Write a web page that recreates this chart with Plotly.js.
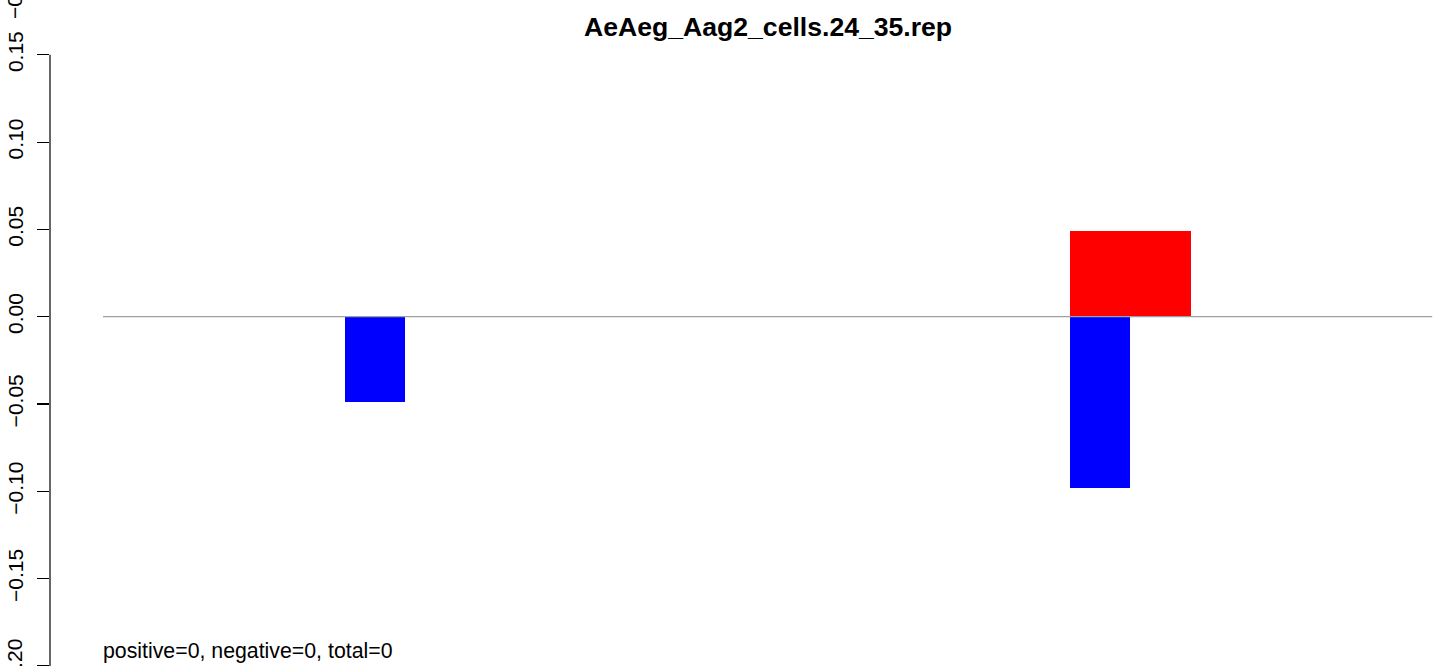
<!DOCTYPE html>
<html>
<head>
<meta charset="utf-8">
<script src="https://cdn.plot.ly/plotly-3.0.1.min.js"></script>
<style>
html,body{margin:0;padding:0;background:#fff;}
#chart{width:1439px;height:666px;}
</style>
</head>
<body>
<div id="chart"></div>
<script>
// ---- data ----
var chartTitle = "AeAeg_Aag2_cells.24_35.rep";
var footerText = "positive=0, negative=0, total=0";
var slotCount = 22;

var negStart = [4, 16];
var negWidth = [1, 1];
var negValues = [-0.049, -0.098];

var posStart = [16];
var posWidth = [2];
var posValues = [0.049];

var yTickVals = [0.15, 0.10, 0.05, 0.00, -0.05, -0.10, -0.15, -0.20];
var yTickText = ["0.15", "0.10", "0.05", "0.00", "\u22120.05", "\u22120.10", "\u22120.15", "\u22120.20"];

// ---- figure ----
var FONT = "Liberation Sans, Arial, Helvetica, sans-serif";

var traces = [
  {
    type: "bar",
    x: posStart, y: posValues, width: posWidth, offset: 0,
    marker: {color: "#FF0000", line: {width: 0}},
    hoverinfo: "skip", showlegend: false
  },
  {
    type: "bar",
    x: negStart, y: negValues, width: negWidth, offset: 0,
    marker: {color: "#0000FF", line: {width: 0}},
    hoverinfo: "skip", showlegend: false
  }
];

var pxPerSlot = 60.42;
var leftMarginPx = 50;
var zeroPx = 103;
var plotW = 1439 - leftMarginPx;
var x0 = -(zeroPx - leftMarginPx) / pxPerSlot;
var x1 = x0 + plotW / pxPerSlot;

// the lowest tick label sits on the page edge; draw it as an annotation so it is not dropped
var lastIdx = yTickVals.length - 1;
var shownTickText = yTickText.map(function (t, i) { return i === lastIdx ? "" : t; });

var layout = {
  width: 1439, height: 666,
  margin: {l: leftMarginPx, r: 0, t: 0, b: 0, pad: 0},
  paper_bgcolor: "#ffffff", plot_bgcolor: "#ffffff",
  barmode: "overlay",
  bargap: 0,
  font: {family: FONT, size: 21, color: "#000"},
  xaxis: {
    range: [x0, x1], visible: false, fixedrange: true
  },
  yaxis: {
    range: [-0.2001, 0.1814],
    showgrid: false, zeroline: false, showline: false,
    tickmode: "array", tickvals: yTickVals, ticktext: shownTickText,
    ticks: "outside", ticklen: 12, tickwidth: 1.2, tickcolor: "#000",
    tickangle: -90, tickfont: {family: FONT, size: 21, color: "#000"},
    ticklabelstandoff: 6,
    automargin: false, fixedrange: true
  },
  shapes: [
    {type: "line", xref: "paper", yref: "y", x0: 0, x1: 0, y0: -0.2001, y1: 0.15,
     line: {color: "#000", width: 1.2}},
    {type: "line", xref: "x", yref: "y", x0: 0, x1: slotCount, y0: 0, y1: 0,
     line: {color: "#A0A0A0", width: 1.3}}
  ],
  annotations: [
    {text: "<b>" + chartTitle + "</b>", xref: "x", yref: "paper",
     x: slotCount / 2, y: 1 - 27.5 / 666, xanchor: "center", yanchor: "middle",
     showarrow: false, font: {family: FONT, size: 26.6, color: "#000"}},
    {text: footerText, xref: "x", yref: "paper",
     x: -0.04, y: 1 - 651 / 666, xanchor: "left", yanchor: "middle",
     showarrow: false, font: {family: FONT, size: 21.3, color: "#000"}},
    {text: yTickText[lastIdx], xref: "paper", yref: "y",
     x: (15 - leftMarginPx) / plotW, y: yTickVals[lastIdx], xanchor: "center", yanchor: "middle",
     textangle: -90, showarrow: false, font: {family: FONT, size: 21, color: "#000"}},
    {text: "\u22120.20", xref: "paper", yref: "paper",
     x: (15 - leftMarginPx) / plotW, y: 1 + 7 / 666, xanchor: "center", yanchor: "middle",
     textangle: -90, showarrow: false, font: {family: FONT, size: 21, color: "#000"}}
  ]
};

Plotly.newPlot("chart", traces, layout, {displayModeBar: false, staticPlot: true});
</script>
</body>
</html>
